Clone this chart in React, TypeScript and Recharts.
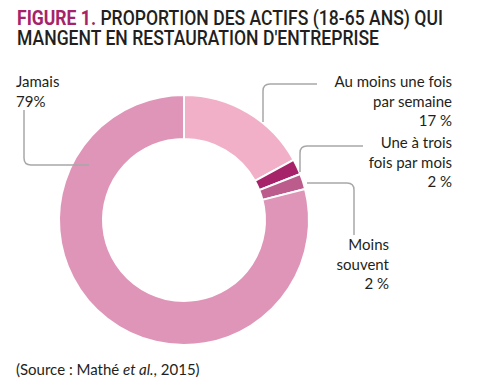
import { useLayoutEffect, useRef, useState } from "react";
import { PieChart, Pie, Cell } from "recharts";

const categories = [
  "Au moins une fois par semaine",
  "Une à trois fois par mois",
  "Moins souvent",
  "Jamais",
];
const shares = [17, 2, 2, 79];
const labelLines = [
  ["Au moins une fois", "par semaine", "17 %"],
  ["Une à trois", "fois par mois", "2 %"],
  ["Moins", "souvent", "2 %"],
  ["Jamais", "79%"],
];
const colors = ["#F1B0C7", "#A6236A", "#BB5C8D", "#DF95B8"];

const data = categories.map((name, i) => ({ name, value: shares[i] }));

// connector + text placement, relative to the pie centre
const labelLayout = [
  { path: [[79, -98], [79, -136], [133, -136]], x: 268, y: -133, anchor: "end" },
  { path: [[116, -48], [116, -74], [179, -74]], x: 268, y: -72, anchor: "end" },
  { path: [[123, -37], [170, -37], [170, 15]], x: 205, y: 30, anchor: "end" },
  { path: [[-160, -110], [-160, -55], [-95, -55]], x: -168, y: -133, anchor: "start" },
];

const FONT = "Lato, 'Open Sans', sans-serif";

function roundedPath(pts: number[][], r: number) {
  const [a, b, c] = pts;
  const d1 = [Math.sign(b[0] - a[0]), Math.sign(b[1] - a[1])];
  const d2 = [Math.sign(c[0] - b[0]), Math.sign(c[1] - b[1])];
  return `M${a[0]},${a[1]} L${b[0] - d1[0] * r},${b[1] - d1[1] * r} Q${b[0]},${b[1]} ${b[0] + d2[0] * r},${b[1] + d2[1] * r} L${c[0]},${c[1]}`;
}

// two-line title, squeezed horizontally to mimic the condensed face
function Title() {
  const ref = useRef<SVGTSpanElement>(null);
  const [sx, setSx] = useState(1);
  useLayoutEffect(() => {
    if (ref.current) {
      const w = ref.current.getComputedTextLength();
      if (w > 0) setSx(426 / w);
    }
  }, []);
  return (
    <text
      transform={`translate(17,25) scale(${sx},1)`}
      fontFamily="Roboto, sans-serif"
      fontSize={21}
      fontWeight={500}
      fill="#231F20"
    >
      <tspan x={0} y={0} ref={ref}>
        <tspan fill="#A6236A" fontWeight={700}>
          FIGURE 1.
        </tspan>{" "}
        PROPORTION DES ACTIFS (18-65 ANS) QUI
      </tspan>
      <tspan x={0} y={20}>
        MANGENT EN RESTAURATION D'ENTREPRISE
      </tspan>
    </text>
  );
}

const renderLabel = (props: any) => {
  const { index, cx, cy } = props;
  const l = labelLayout[index];
  const pts = l.path.map(([x, y]) => [cx + x, cy + y]);
  return (
    <g key={`lbl-${index}`}>
      <path d={roundedPath(pts, 7)} stroke="#A8A8A8" strokeWidth={1.5} fill="none" />
      <text
        x={cx + l.x}
        y={cy + l.y}
        textAnchor={l.anchor}
        fontFamily={FONT}
        fontSize={15}
        fill="#231F20"
      >
        {labelLines[index].map((t, j) => (
          <tspan key={j} x={cx + l.x} dy={j === 0 ? 0 : 19.5}>
            {t}
          </tspan>
        ))}
      </text>
    </g>
  );
};

export default function App() {
  return (
    <div
      style={{
        position: "absolute",
        left: 0,
        top: 0,
        width: 477,
        height: 391,
        background: "#fff",
      }}
    >
      <svg
        width={477}
        height={391}
        style={{ position: "absolute", left: 0, top: 0 }}
      >
        <Title />
        <text x={16} y={375} fontFamily={FONT} fontSize={15} fill="#231F20">
          (Source : Mathé <tspan fontStyle="italic">et al.</tspan>, 2015)
        </text>
      </svg>
      <div style={{ position: "absolute", left: 0, top: 0 }}>
        <PieChart
          width={477}
          height={391}
          margin={{ top: 0, right: 0, bottom: 0, left: 0 }}
        >
          <Pie
            data={data}
            dataKey="value"
            nameKey="name"
            cx={184}
            cy={220}
            innerRadius={81}
            outerRadius={125}
            startAngle={90}
            endAngle={-270}
            stroke="#fff"
            strokeWidth={2}
            label={renderLabel}
            labelLine={false}
            isAnimationActive={false}
          >
            {data.map((d, i) => (
              <Cell key={d.name} fill={colors[i]} />
            ))}
          </Pie>
        </PieChart>
      </div>
    </div>
  );
}
